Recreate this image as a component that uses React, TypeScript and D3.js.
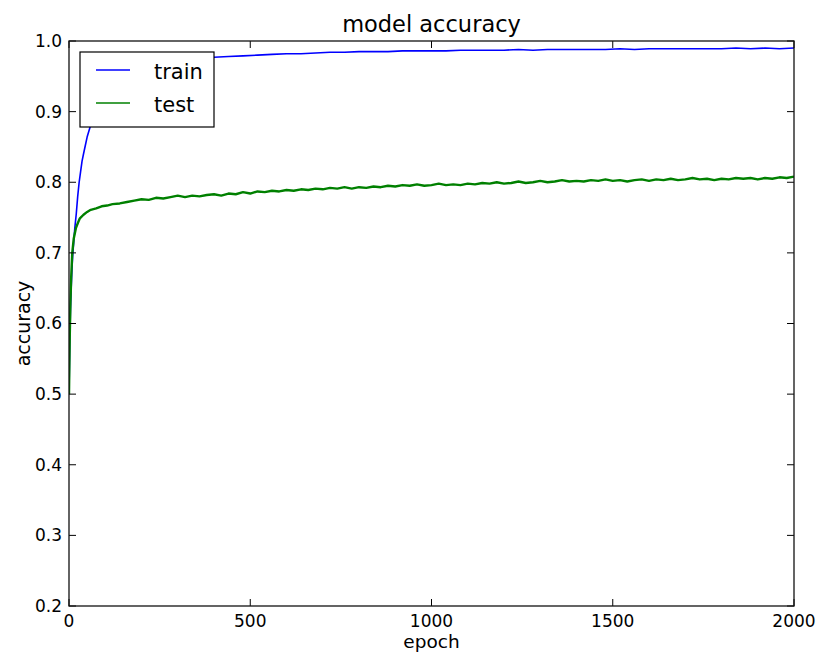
import { useEffect, useRef } from 'react';
import * as d3 from 'd3';

// train accuracy
const trainEpochs = [
  0, 2, 4, 6, 8, 10, 13, 16, 20, 24, 28, 32, 36, 40, 45, 50, 58, 65, 75, 85, 100, 120, 140, 160, 180,
  200, 240, 280, 320, 360, 400, 440, 480, 520, 560, 600, 640, 680, 720, 760, 800, 840, 880, 920, 960,
  1000, 1040, 1080, 1120, 1160, 1200, 1240, 1280, 1320, 1360, 1400, 1440, 1480, 1520, 1560, 1600,
  1640, 1680, 1720, 1760, 1800, 1840, 1880, 1920, 1960, 2000,
];
const trainAcc = [
  0.5, 0.57, 0.62, 0.65, 0.675, 0.695, 0.715, 0.735, 0.755, 0.78, 0.8, 0.815, 0.83, 0.84, 0.852, 0.864,
  0.878, 0.888, 0.9, 0.91, 0.922, 0.935, 0.944, 0.952, 0.958,
  0.963, 0.967, 0.971, 0.973, 0.975, 0.977, 0.978, 0.979, 0.98, 0.981, 0.982, 0.982, 0.983, 0.984, 0.984,
  0.985, 0.985, 0.985, 0.986, 0.986, 0.986, 0.986, 0.987, 0.987, 0.987, 0.987, 0.988, 0.987, 0.988, 0.988,
  0.988, 0.988, 0.988, 0.989, 0.988, 0.989, 0.989, 0.989, 0.989, 0.989, 0.989, 0.99, 0.989, 0.99, 0.989, 0.99,
];

// test accuracy
const testEpochs = [
  0, 2, 4, 6, 9, 13, 19, 25, 30, 40, 50, 60, 75, 90, 105, 120, 140,
  160, 180, 200, 220, 240, 260, 280, 300, 320, 340, 360, 380, 400, 420, 440, 460, 480, 500,
  520, 540, 560, 580, 600, 620, 640, 660, 680, 700, 720, 740, 760, 780, 800, 820, 840, 860, 880, 900,
  920, 940, 960, 980, 1000, 1020, 1040, 1060, 1080, 1100, 1120, 1140, 1160, 1180, 1200, 1220, 1240,
  1260, 1280, 1300, 1320, 1340, 1360, 1380, 1400, 1420, 1440, 1460, 1480, 1500, 1520, 1540, 1560,
  1580, 1600, 1620, 1640, 1660, 1680, 1700, 1720, 1740, 1760, 1780, 1800, 1820, 1840, 1860, 1880,
  1900, 1920, 1940, 1960, 1980, 2000,
];
const testAcc = [
  0.5, 0.58, 0.63, 0.665, 0.7, 0.72, 0.735, 0.743, 0.749, 0.754, 0.758, 0.761, 0.763, 0.766, 0.767, 0.769, 0.77,
  0.772, 0.774, 0.776, 0.775, 0.778, 0.777, 0.779, 0.781, 0.779, 0.781, 0.78, 0.782, 0.783, 0.781, 0.784, 0.783, 0.786, 0.784,
  0.787, 0.786, 0.788, 0.787, 0.789, 0.788, 0.79, 0.789, 0.791, 0.79, 0.792, 0.791, 0.793, 0.791, 0.793, 0.792, 0.794, 0.793, 0.795, 0.794,
  0.796, 0.795, 0.797, 0.795, 0.796, 0.798, 0.796, 0.797, 0.796, 0.798, 0.797, 0.799, 0.798, 0.8, 0.798, 0.799, 0.801,
  0.799, 0.8, 0.802, 0.8, 0.801, 0.803, 0.801, 0.802, 0.801, 0.803, 0.802, 0.804, 0.802, 0.803, 0.801, 0.803,
  0.804, 0.802, 0.804, 0.803, 0.805, 0.803, 0.804, 0.806, 0.804, 0.805, 0.803, 0.805, 0.804, 0.806, 0.805, 0.806,
  0.804, 0.806, 0.805, 0.807, 0.806, 0.808,
];

const xTicks = [0, 500, 1000, 1500, 2000];
const yTicks = [0.2, 0.3, 0.4, 0.5, 0.6, 0.7, 0.8, 0.9, 1.0];
const seriesNames = ['train', 'test'];
const seriesColors = ['#0000ff', '#008000'];

const FONT = '"DejaVu Sans", sans-serif';

const AccuracyChart = () => {
  const svgRef = useRef<SVGSVGElement>(null);

  useEffect(() => {
    const W = 819;
    const H = 655;
    const margin = { top: 41, right: 25, bottom: 49, left: 69 };
    const width = W - margin.left - margin.right;
    const height = H - margin.top - margin.bottom;

    const root = d3.select(svgRef.current);
    root.selectAll('*').remove();
    root.attr('width', W).attr('height', H);

    const svg = root.append('g').attr('transform', `translate(${margin.left},${margin.top})`);

    const x = d3.scaleLinear().domain([0, 2000]).range([0, width]);
    const y = d3.scaleLinear().domain([0.2, 1.0]).range([height, 0]);

    root.append('defs').append('clipPath').attr('id', 'plot-clip')
      .append('rect').attr('width', width).attr('height', height);

    // lines
    const line = d3.line<[number, number]>()
      .x(d => x(d[0]))
      .y(d => y(d[1]));

    const series = [
      d3.zip(trainEpochs, trainAcc) as [number, number][],
      d3.zip(testEpochs, testAcc) as [number, number][],
    ];

    series.forEach((values, i) => {
      svg.append('path')
        .datum(values)
        .attr('clip-path', 'url(#plot-clip)')
        .attr('fill', 'none')
        .attr('stroke', seriesColors[i])
        .attr('stroke-width', i === 1 ? 2.4 : 1.6)
        .attr('stroke-linejoin', 'round')
        .attr('d', line);
    });

    // ticks pointing inward, on all four sides
    const tickLen = 7;
    const ticks = svg.append('g').attr('stroke', '#000').attr('stroke-width', 1);
    xTicks.forEach(t => {
      ticks.append('line').attr('x1', x(t)).attr('x2', x(t)).attr('y1', height).attr('y2', height - tickLen);
      ticks.append('line').attr('x1', x(t)).attr('x2', x(t)).attr('y1', 0).attr('y2', tickLen);
    });
    yTicks.forEach(t => {
      ticks.append('line').attr('x1', 0).attr('x2', tickLen).attr('y1', y(t)).attr('y2', y(t));
      ticks.append('line').attr('x1', width).attr('x2', width - tickLen).attr('y1', y(t)).attr('y2', y(t));
    });

    // frame
    svg.append('rect')
      .attr('width', width)
      .attr('height', height)
      .attr('fill', 'none')
      .attr('stroke', '#111')
      .attr('stroke-width', 1.3);

    // tick labels
    svg.append('g').selectAll('text')
      .data(xTicks)
      .enter().append('text')
      .attr('x', d => x(d))
      .attr('y', height + 21)
      .attr('text-anchor', 'middle')
      .style('font-family', FONT)
      .style('font-size', '17px')
      .style('fill', '#000')
      .text(d => d3.format('d')(d));

    svg.append('g').selectAll('text')
      .data(yTicks)
      .enter().append('text')
      .attr('x', -7)
      .attr('y', d => y(d))
      .attr('dy', '0.35em')
      .attr('text-anchor', 'end')
      .style('font-family', FONT)
      .style('font-size', '17px')
      .style('fill', '#000')
      .text(d => d3.format('.1f')(d));

    // axis labels and title
    svg.append('text')
      .attr('x', width / 2)
      .attr('y', height + 42)
      .attr('text-anchor', 'middle')
      .style('font-family', FONT)
      .style('font-size', '18.5px')
      .text('epoch');

    svg.append('text')
      .attr('transform', `translate(${-39},${height / 2}) rotate(-90)`)
      .attr('text-anchor', 'middle')
      .style('font-family', FONT)
      .style('font-size', '19px')
      .text('accuracy');

    svg.append('text')
      .attr('x', width / 2)
      .attr('y', -9)
      .attr('text-anchor', 'middle')
      .style('font-family', FONT)
      .style('font-size', '22.5px')
      .text('model accuracy');

    // legend
    const legend = svg.append('g').attr('transform', 'translate(11,11)');
    legend.append('rect')
      .attr('width', 134)
      .attr('height', 75)
      .attr('fill', '#fff')
      .attr('stroke', '#000')
      .attr('stroke-width', 1.2);

    const item = legend.selectAll('.legend-item')
      .data(seriesNames)
      .enter().append('g')
      .attr('class', 'legend-item')
      .attr('transform', (d, i) => `translate(0,${18 + i * 33})`);

    item.append('line')
      .attr('x1', 16)
      .attr('x2', 50)
      .attr('stroke', (d, i) => seriesColors[i])
      .attr('stroke-width', 1.4);

    item.append('text')
      .attr('x', 74)
      .attr('y', 9)
      .style('font-family', FONT)
      .style('font-size', '21px')
      .style('fill', '#000')
      .text(d => d);
  }, []);

  return <svg ref={svgRef} style={{ position: 'absolute', left: 0, top: 0 }}></svg>;
};

export default function App() {
  return <AccuracyChart />;
}
